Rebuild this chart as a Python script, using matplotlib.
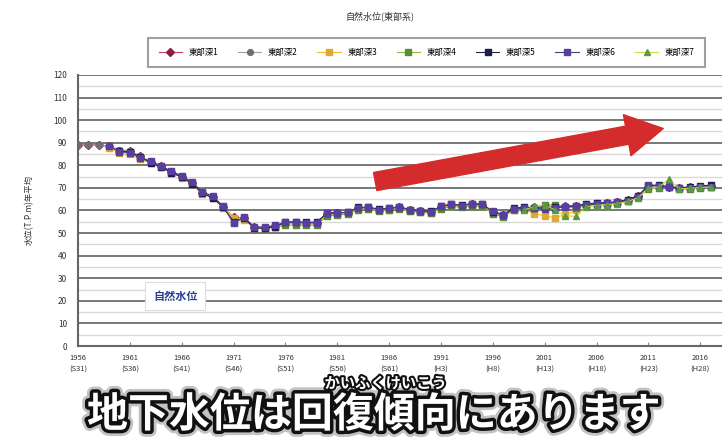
import numpy as np
import matplotlib
matplotlib.use('Agg')
import matplotlib.pyplot as plt
import matplotlib.patheffects as pe

plt.rcParams['font.family'] = ['Noto Sans CJK JP', 'DejaVu Sans']

title = '自然水位(東部系)'
ylabel = '水位(T.P.m)年平均'
caption = '地下水位は回復傾向にあります'
furigana = 'かいふくけいこう'
box_label = '自然水位'

tick_years = [1956, 1961, 1966, 1971, 1976, 1981, 1986, 1991, 1996, 2001, 2006, 2011, 2016]
tick_era = ['S31', 'S36', 'S41', 'S46', 'S51', 'S56', 'S61', 'H3', 'H8', 'H13', 'H18', 'H23', 'H28']

years = list(range(1956, 2018))
N = None

# 1956 .. 2017
well1 = [89.0, 89.2, 89.0, 88.6, 86.5, 86.3, 84.0, 81.5, 79.6, 77.2,
         75.0, 72.2, 67.8, 66.0, 61.5, 57.0, 56.5, 52.5, 52.3, 53.0,
         54.5, 54.6, 54.5, 54.4, 58.5, 58.8, 59.0, 61.0, 61.2, 60.3,
         60.8, 61.4, 60.0, 59.6, 59.2, 61.5, 62.6, 62.0, 62.8, 62.6,
         59.2, 57.8, 60.8, 61.2, 61.4, 61.6, 61.8, 62.0, 61.8, 62.4,
         63.0, 63.2, 63.6, 64.6, 66.2, 70.6, 70.8, 70.6, 69.8, 70.2,
         70.6, 71.0]
well2 = [89.0, 89.0, 88.8, 88.5, 86.8, 86.5, 84.2, 81.6, 79.4, 77.0,
         75.2, 72.0, 68.0, 65.8, 61.8, 56.5, 56.2, 52.6, 52.4, 53.2,
         54.6, 54.8, 54.6, 54.5, 58.6, 58.9, 59.2, 61.2, 61.0, 60.2,
         60.6, 61.2, 60.2, 59.8, 59.4, 61.6, 62.4, 62.2, 62.6, 62.4,
         59.4, 58.0, 60.6, 61.0, 61.6, 61.8, 61.6, 62.2, 62.0, 62.6,
         63.2, 63.4, 63.8, 64.8, 66.4, 70.4, 70.6, 70.8, 70.0, 70.0,
         70.4, 70.8]
well3 = [N, N, N, 87.8, 85.4, 84.8, 82.6, 81.0, 79.2, 76.6,
         74.6, 71.6, 67.4, 65.6, 61.2, 56.8, 56.0, 52.2, 52.0, 52.8,
         54.2, 54.2, 54.0, 54.0, 58.2, 58.4, 58.8, 60.6, 60.8, 60.0,
         60.4, 61.0, 59.8, 59.4, 59.0, 61.2, 62.2, 61.8, 62.4, 62.2,
         58.8, 57.4, 60.2, 60.6, 58.6, 57.6, 56.8, 58.2, 60.0, N,
         N, N, N, N, N, N, N, N, N, N,
         N, N]
well4 = [N, N, N, N, N, N, N, N, N, N,
         N, N, N, N, N, N, N, N, 52.0, 52.6,
         53.4, 53.6, 53.4, 53.4, 57.6, 58.0, 58.4, 60.4, 60.6, 59.8,
         60.2, 60.8, 59.6, 59.2, 58.8, 60.8, 61.8, 61.4, 62.0, 61.8,
         58.6, 57.2, 60.0, 60.8, 61.0, 62.4, 62.6, 61.4, 61.2, 62.0,
         62.6, 62.8, 63.2, 64.2, 65.8, 69.6, 70.0, 71.0, 69.4, 69.6,
         70.0, 70.2]
well5 = [N, N, N, N, 86.2, 86.0, 83.6, 81.2, 79.2, 76.8,
         74.8, 71.8, 67.6, 65.6, 61.4, 55.0, 56.6, 52.2, 52.2, 52.8,
         54.8, 55.0, 54.8, 54.8, 58.8, 59.0, 59.2, 61.4, 61.4, 60.6,
         61.0, 61.6, 60.4, 59.8, 59.6, 61.8, 62.8, 62.4, 63.0, 62.8,
         59.4, 58.2, 61.0, 61.4, 61.2, 61.0, 61.4, 61.6, 62.2, 62.8,
         63.4, 63.4, 63.8, 64.8, 66.6, 71.0, 71.2, 70.4, 70.0, 70.4,
         70.8, 71.2]
well6 = [N, N, N, 88.4, 86.0, 85.6, 83.4, 81.8, 79.8, 77.4,
         75.4, 72.6, 68.2, 66.4, 61.8, 54.4, 57.0, 52.8, 52.6, 53.4,
         54.8, 54.8, 54.6, 54.6, 58.8, 59.0, 59.2, 61.2, 61.4, 60.4,
         61.0, 61.6, 60.2, 59.8, 59.4, 61.8, 62.8, 62.2, 63.0, 62.8,
         59.6, 58.0, 60.6, 61.0, 61.0, 60.6, 61.2, 61.6, 62.0, 62.6,
         63.0, 63.2, 63.6, 64.4, 66.0, 71.4, 71.0, 70.4, 69.8, 70.0,
         70.4, 70.6]
well7 = [N, N, N, N, N, N, N, N, N, N,
         N, N, N, N, N, N, N, N, N, N,
         N, N, N, N, N, N, N, N, N, N,
         N, N, N, N, N, N, N, N, N, N,
         N, N, N, 60.2, 61.8, 62.6, 60.2, 57.6, 57.4, 61.6,
         62.2, 62.6, 63.0, 64.0, 65.6, 69.8, 70.4, 73.8, 69.6, 69.8,
         70.2, 70.4]

series = [
    ('東部深1', well1, '#c8386e', 'D', '#8c1c40'),
    ('東部深2', well2, '#a0a0a0', 'o', '#707070'),
    ('東部深3', well3, '#f0c020', 's', '#e0a830'),
    ('東部深4', well4, '#90b840', 's', '#5a8c30'),
    ('東部深5', well5, '#202048', 's', '#1c1c50'),
    ('東部深6', well6, '#40407a', 's', '#583ea0'),
    ('東部深7', well7, '#c8d848', '^', '#5a9a40'),
]

fig = plt.figure(figsize=(7.22, 4.41), dpi=100)
ax = fig.add_axes([0.108, 0.2154, 0.892, 0.6146])

for name, vals, lc, mk, mc in series:
    y = np.array([np.nan if v is None else v for v in vals], dtype=float)
    ax.plot(years, y, color=lc, lw=0.8, marker=mk, markersize=4.2,
            markerfacecolor=mc, markeredgecolor=mc, label=name)

ax.set_xlim(1956, 2018.1)
ax.set_ylim(0, 120)
ax.set_yticks(range(0, 121, 10))
ax.set_yticks(range(5, 120, 10), minor=True)
ax.set_xticks(tick_years)
ax.set_xticklabels([f'{y}\n({e})' for y, e in zip(tick_years, tick_era)],
                   fontsize=5.5, color='#333333', linespacing=1.6)
ax.tick_params(axis='y', labelsize=6, colors='#333333', length=0, pad=8)
ax.tick_params(axis='x', direction='in', length=3, color='#888888', pad=6)
ax.tick_params(which='minor', length=0)
ax.grid(axis='y', which='major', color='#777777', lw=1.4)
ax.grid(axis='y', which='minor', color='#d8d8d8', lw=1.0)
for s in ['top', 'right']:
    ax.spines[s].set_visible(False)
for s in ['left', 'bottom']:
    ax.spines[s].set_color('#666666')
    ax.spines[s].set_linewidth(1.5)
ax.set_axisbelow(True)

ax.set_ylabel(ylabel, fontsize=6, color='#333333', labelpad=14)
fig.text(0.527, 0.962, title, ha='center', va='center', fontsize=6.5, color='#333333')

leg = fig.legend(loc='center', bbox_to_anchor=(0.591, 0.881), ncol=7, fontsize=6,
                 frameon=True, fancybox=False, edgecolor='#888888',
                 handlelength=2.8, columnspacing=2.35, borderpad=1.25)
leg.get_frame().set_linewidth(1.5)

ax.text(1965.4, 22.1, box_label, ha='center', va='center', fontsize=8,
        fontweight='bold', color='#2a3f94',
        bbox=dict(boxstyle='square,pad=0.7', fc='white', ec='#dddddd', lw=0.8))

ax.annotate('', xy=(2012.7, 96.5), xytext=(1984.4, 72.6),
            arrowprops=dict(arrowstyle='simple,head_length=2.2,head_width=2.5,tail_width=1.1',
                            color='#d42c2c', mutation_scale=12, capstyle='round'))

fx = [pe.Stroke(linewidth=9, foreground='#9a9a9a', alpha=0.6),
      pe.Stroke(linewidth=5, foreground='#111111'), pe.Normal()]
fig.text(0.518, 0.059, caption, ha='center', va='center', fontsize=29.5,
         fontweight='bold', color='white', path_effects=fx)
fig.text(0.534, 0.131, furigana, ha='center', va='center', fontsize=11,
         fontweight='bold', color='white',
         path_effects=[pe.Stroke(linewidth=3, foreground='#111111'), pe.Normal()])

fig.savefig('out.png', dpi=100)
